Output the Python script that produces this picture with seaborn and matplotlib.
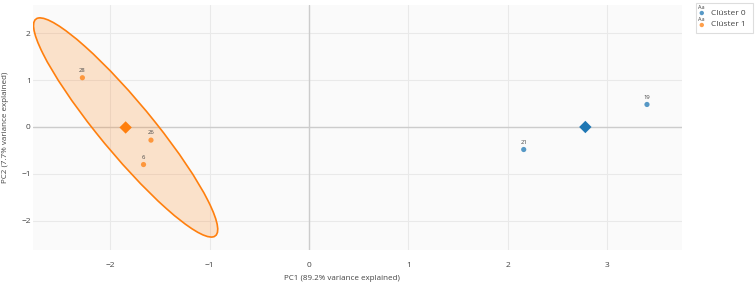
import numpy as np
import pandas as pd
import matplotlib
matplotlib.use("Agg")
import matplotlib.pyplot as plt
from matplotlib.patches import Ellipse, Rectangle
import seaborn as sns

# --- data ---
labels = ["28", "26", "6", "19", "21"]
pc1 = [-2.28, -1.59, -1.665, 3.40, 2.16]
pc2 = [1.05, -0.28, -0.80, 0.48, -0.48]
cluster = ["Clúster 1", "Clúster 1", "Clúster 1", "Clúster 0", "Clúster 0"]
cluster_names = ["Clúster 0", "Clúster 1"]
colors = {"Clúster 0": "#1f77b4", "Clúster 1": "#ff7f0e"}

df = pd.DataFrame({"label": labels, "pc1": pc1, "pc2": pc2, "cluster": cluster})

sns.set_style("white")
plt.rcParams["font.family"] = ["Open Sans", "DejaVu Sans"]

fig = plt.figure(figsize=(7.55, 2.85), dpi=100)
ax = fig.add_axes([0.0433, 0.123, 0.8597, 0.8595])
ax.set_facecolor("#fafafa")

# 95% confidence ellipse for clusters with more than 2 points
chi2_95 = 5.991
for name in cluster_names:
    sub = df[df["cluster"] == name]
    if len(sub) < 3:
        continue
    cov = np.cov(sub["pc1"], sub["pc2"])
    vals, vecs = np.linalg.eigh(cov)
    order = vals.argsort()[::-1]
    vals, vecs = vals[order], vecs[:, order]
    angle = np.degrees(np.arctan2(vecs[1, 0], vecs[0, 0]))
    w, h = 2 * np.sqrt(vals * chi2_95)
    center = (sub["pc1"].mean(), sub["pc2"].mean())
    ax.add_patch(Ellipse(center, w, h, angle=angle, facecolor=colors[name],
                         alpha=0.2, edgecolor="none", zorder=2))
    ax.add_patch(Ellipse(center, w, h, angle=angle, facecolor="none",
                         edgecolor=colors[name], lw=1.2, zorder=3))

sns.scatterplot(data=df, x="pc1", y="pc2", hue="cluster", palette=colors,
                s=14, alpha=0.75, edgecolor="none", legend=False, ax=ax, zorder=4)

cent = df.groupby("cluster")[["pc1", "pc2"]].mean().reset_index()
sns.scatterplot(data=cent, x="pc1", y="pc2", hue="cluster", palette=colors,
                marker="D", s=40, edgecolor="none", legend=False, ax=ax, zorder=5)

for _, r in df.iterrows():
    ax.annotate(r["label"], (r["pc1"], r["pc2"]), xytext=(0, 3.5),
                textcoords="offset points", ha="center", va="bottom",
                fontsize=4.2, color="#444444", zorder=6)

ax.set_xlim(-2.78, 3.75)
ax.set_ylim(-2.62, 2.6)
ax.set_xticks([-2, -1, 0, 1, 2, 3])
ax.set_yticks([-2, -1, 0, 1, 2])
ax.grid(True, color="#e9e9e9", lw=0.8, zorder=0)
ax.set_axisbelow(True)
ax.axhline(0, color="#cccccc", lw=1, zorder=1)
ax.axvline(0, color="#cccccc", lw=1, zorder=1)
for s in ax.spines.values():
    s.set_visible(False)
ax.tick_params(length=0, labelsize=6, colors="#444444")
ax.tick_params(axis="x", pad=9)
ax.tick_params(axis="y", pad=1.5)
ax.set_xlabel("PC1 (89.2% variance explained)", fontsize=5.8, color="#444444")
ax.set_ylabel("PC2 (7.7% variance explained)", fontsize=5.8, color="#444444")
ax.xaxis.set_label_coords(0.4763, -0.102)
ax.yaxis.set_label_coords(-0.036, 0.5)

# plotly-like legend box
lax = fig.add_axes([0.922, 0.885, 0.075, 0.105])
lax.set_xlim(0, 1)
lax.set_ylim(0, 1)
lax.axis("off")
lax.add_patch(Rectangle((0, 0), 1, 1, facecolor="white", edgecolor="#dddddd",
                        lw=0.8, transform=lax.transAxes, clip_on=False))
for i, name in enumerate(cluster_names):
    yy = 0.66 - i * 0.4
    lax.scatter([0.1], [yy], s=10, color=colors[name], alpha=0.75, edgecolor="none")
    lax.text(0.1, yy + 0.1, "Aa", fontsize=4, ha="center", va="bottom", color="#444444")
    lax.text(0.27, yy, name, fontsize=6, va="center", color="#444444")

fig.savefig("out.png", dpi=100)
